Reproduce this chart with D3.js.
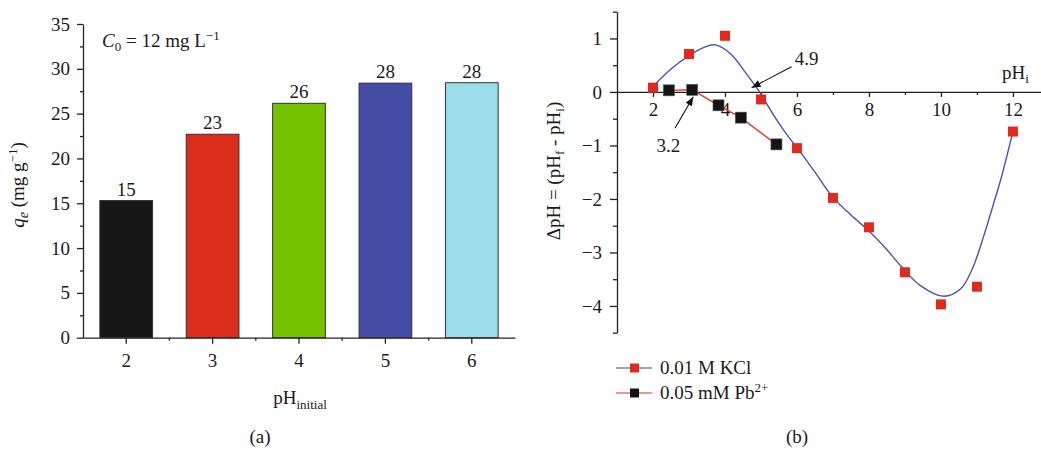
<!DOCTYPE html>
<html>
<head>
<meta charset="utf-8">
<script src="https://cdn.jsdelivr.net/npm/d3@7"></script>
<style>
  body { margin: 0; background: #fff; }
  svg text { font-family: "Liberation Serif", "DejaVu Serif", serif; fill: #1a1a1a; }
</style>
</head>
<body>
<svg id="fig" width="1041" height="452"></svg>
<script>
// (a) bar chart
var phInitial = ["2", "3", "4", "5", "6"];
var qe = [15.3, 22.7, 26.15, 28.4, 28.45];
var qeLabels = ["15", "23", "26", "28", "28"];
var barColors = ["#171717", "#dc2d1b", "#75c300", "#454ca6", "#9adde9"];
var qeTicks = [0, 5, 10, 15, 20, 25, 30, 35];

// (b) pH drift
var kclX = [2, 3, 4, 5, 6, 7, 8, 9, 10, 11, 12];
var kclY = [0.08, 0.71, 1.05, -0.14, -1.05, -1.98, -2.53, -3.37, -3.97, -3.64, -0.74];
// fitted curve for KCl
var fitX = [2.08, 2.5, 3.0, 3.4, 3.74, 4.16, 4.53, 4.94, 5.32, 5.7, 6.1, 6.5, 7, 7.5, 8, 8.5, 8.88, 9.43, 10.08, 10.55, 10.87, 11.19, 11.47, 11.66, 11.85, 12];
var fitY = [0.16, 0.43, 0.68, 0.83, 0.88, 0.71, 0.40, 0.02, -0.40, -0.78, -1.13, -1.5, -1.97, -2.3, -2.6, -2.95, -3.25, -3.62, -3.82, -3.68, -3.31, -2.69, -2.07, -1.64, -1.15, -0.74];
var pbX = [2.44, 3.09, 3.82, 4.44, 5.43];
var pbY = [0.03, 0.04, -0.25, -0.48, -0.98];
var phTicks = [2, 4, 6, 8, 10, 12];
var dphTicks = [1, 0, -1, -2, -3, -4];

var svg = d3.select("#fig");
var fs = 19;

// ---------- panel (a) ----------
var xa = d3.scaleBand().domain(phInitial).range([83, 515])
           .paddingInner(0.39).paddingOuter(0.195);
var ya = d3.scaleLinear().domain([0, 35]).range([337.7, 24]);

var pa = svg.append("g");

pa.selectAll(".bar")
  .data(qe)
  .enter().append("rect")
  .attr("x", (d, i) => xa(phInitial[i]))
  .attr("y", d => ya(d))
  .attr("width", xa.bandwidth())
  .attr("height", d => ya(0) - ya(d))
  .style("fill", (d, i) => barColors[i])
  .style("stroke", "#333")
  .style("stroke-width", 1);

pa.selectAll(".blab")
  .data(qe)
  .enter().append("text")
  .attr("x", (d, i) => xa(phInitial[i]) + xa.bandwidth() / 2)
  .attr("y", d => ya(d) - 5)
  .attr("text-anchor", "middle")
  .style("font-size", fs + "px")
  .text((d, i) => qeLabels[i]);

// y axis
var yAxisA = d3.axisLeft(ya).tickValues(qeTicks).tickSize(6).tickSizeOuter(0).tickPadding(7);
var gya = pa.append("g").attr("transform", "translate(83,0)").call(yAxisA);
gya.selectAll("text").style("font-size", fs + "px");
gya.selectAll("line, path").style("stroke", "#222").style("stroke-width", 1.3);
pa.append("g").attr("transform", "translate(83,0)")
  .call(d3.axisLeft(ya).tickValues(qeTicks.slice(0, -1).map(d => d + 2.5)).tickSize(3).tickFormat(""))
  .call(g => g.select(".domain").remove())
  .selectAll("line").style("stroke", "#222").style("stroke-width", 1.3);

// x axis
var gxa = pa.append("g").attr("transform", "translate(0," + ya(0) + ")")
  .call(d3.axisBottom(xa).tickSize(6).tickSizeOuter(0).tickPadding(10));
gxa.selectAll("text").style("font-size", fs + "px");
gxa.selectAll("line, path").style("stroke", "#222").style("stroke-width", 1.3);
pa.append("g").selectAll("line")
  .data(d3.range(1, phInitial.length))
  .enter().append("line")
  .attr("x1", i => xa.range()[0] + i * xa.step())
  .attr("x2", i => xa.range()[0] + i * xa.step())
  .attr("y1", ya(0)).attr("y2", ya(0) + 3)
  .style("stroke", "#222").style("stroke-width", 1.3);

// labels
var c0 = pa.append("text").attr("x", 102).attr("y", 47).style("font-size", fs + "px");
c0.append("tspan").style("font-style", "italic").text("C");
c0.append("tspan").attr("dy", 4).style("font-size", "13px").text("0");
c0.append("tspan").attr("dy", -4).text(" = 12 mg L");
c0.append("tspan").attr("dy", -7).style("font-size", "13px").text("−1");

var yla = pa.append("text").attr("transform", "translate(24,185) rotate(-90)")
  .attr("text-anchor", "middle").style("font-size", fs + "px");
yla.append("tspan").style("font-style", "italic").text("q");
yla.append("tspan").attr("dy", 4).style("font-size", "14px").style("font-style", "italic").text("e");
yla.append("tspan").attr("dy", -4).text(" (mg g");
yla.append("tspan").attr("dy", -7).style("font-size", "13px").text("−1");
yla.append("tspan").attr("dy", 7).text(")");

var xla = pa.append("text").attr("x", 300).attr("y", 404)
  .attr("text-anchor", "middle").style("font-size", fs + "px");
xla.append("tspan").text("pH");
xla.append("tspan").attr("dy", 5).style("font-size", "13px").text("initial");

pa.append("text").attr("x", 260).attr("y", 443).attr("text-anchor", "middle")
  .style("font-size", fs + "px").text("(a)");

// ---------- panel (b) ----------
var xb = d3.scaleLinear().domain([1, 12.78]).range([617, 1041]);
var yb = d3.scaleLinear().domain([-4.5, 1.5]).range([332.7, 11.7]);
var pb = svg.append("g");

// y axis
var gyb = pb.append("g").attr("transform", "translate(617,0)")
  .call(d3.axisLeft(yb).tickValues(dphTicks).tickSize(7).tickSizeOuter(0).tickPadding(8).tickFormat(d3.format("d")));
gyb.selectAll("text").style("font-size", fs + "px");
gyb.selectAll("line, path").style("stroke", "#222").style("stroke-width", 1.3);
pb.append("g").attr("transform", "translate(617,0)")
  .call(d3.axisLeft(yb).tickValues(d3.range(-4.5, 2, 1)).tickSize(4).tickFormat(""))
  .call(g => g.select(".domain").remove())
  .selectAll("line").style("stroke", "#222").style("stroke-width", 1.3);

// x axis at zero
var gxb = pb.append("g").attr("transform", "translate(0," + yb(0) + ")")
  .call(d3.axisBottom(xb).tickValues(phTicks).tickSize(5).tickSizeOuter(0).tickPadding(6).tickFormat(d3.format("d")));
gxb.selectAll("text").style("font-size", fs + "px");
gxb.selectAll("line, path").style("stroke", "#222").style("stroke-width", 1.3);
pb.append("g").attr("transform", "translate(0," + yb(0) + ")")
  .call(d3.axisBottom(xb).tickValues(d3.range(3, 13, 2)).tickSize(3).tickFormat(""))
  .call(g => g.select(".domain").remove())
  .selectAll("line").style("stroke", "#222").style("stroke-width", 1.3);

var phi = pb.append("text").attr("x", 1002).attr("y", 79).style("font-size", fs + "px");
phi.append("tspan").text("pH");
phi.append("tspan").attr("dy", 4).style("font-size", "13px").text("i");

var ylb = pb.append("text").attr("transform", "translate(560,171) rotate(-90)")
  .attr("text-anchor", "middle").style("font-size", fs + "px");
ylb.append("tspan").text("ΔpH = (pH");
ylb.append("tspan").attr("dy", 4).style("font-size", "13px").text("f");
ylb.append("tspan").attr("dy", -4).text(" - pH");
ylb.append("tspan").attr("dy", 4).style("font-size", "13px").text("i");
ylb.append("tspan").attr("dy", -4).text(")");

// lines
var line = d3.line().x(d => xb(d[0])).y(d => yb(d[1]));
pb.append("path")
  .attr("d", line.curve(d3.curveCatmullRom.alpha(0.5))(d3.zip(fitX, fitY)))
  .style("fill", "none").style("stroke", "#4a52b5").style("stroke-width", 1.4);
pb.append("path")
  .attr("d", d3.line().x(d => xb(d[0])).y(d => yb(d[1]))(d3.zip(pbX, pbY)))
  .style("fill", "none").style("stroke", "#e23a2a").style("stroke-width", 1.4);

// markers
pb.selectAll(".kcl").data(d3.zip(kclX, kclY)).enter().append("rect")
  .attr("x", d => xb(d[0]) - 5).attr("y", d => yb(d[1]) - 5)
  .attr("width", 10).attr("height", 10).style("fill", "#e02a1e");
pb.selectAll(".pb").data(d3.zip(pbX, pbY)).enter().append("rect")
  .attr("x", d => xb(d[0]) - 5.5).attr("y", d => yb(d[1]) - 5.5)
  .attr("width", 11).attr("height", 11).style("fill", "#141414")
  .style("stroke", "#555").style("stroke-width", 0.6);

// annotations
svg.append("defs").append("marker").attr("id", "ah")
  .attr("viewBox", "0 0 10 10").attr("refX", 10).attr("refY", 5)
  .attr("markerWidth", 9).attr("markerHeight", 9).attr("orient", "auto")
  .attr("markerUnits", "userSpaceOnUse")
  .append("path").attr("d", "M0,1 L10,5 L0,9 Z").style("fill", "#111");

var notes = [
  {label: "4.9", tip: [4.74, 0.08], tail: [5.85, 0.47], at: [5.94, 0.5]},
  {label: "3.2", tip: [3.12, -0.09], tail: [2.61, -0.68], at: [2.10, -1.12]}
];
notes.forEach(function (n) {
  pb.append("line")
    .attr("x1", xb(n.tail[0])).attr("y1", yb(n.tail[1]))
    .attr("x2", xb(n.tip[0])).attr("y2", yb(n.tip[1]))
    .style("stroke", "#111").style("stroke-width", 1.1)
    .attr("marker-end", "url(#ah)");
  pb.append("text").attr("x", xb(n.at[0])).attr("y", yb(n.at[1]))
    .style("font-size", fs + "px").text(n.label);
});

// legend
var legend = [
  {name: "0.01 M KCl", line: "#7d82c8", fill: "#e02a1e"},
  {name: "0.05 mM Pb", sup: "2+", line: "#e97566", fill: "#141414"}
];
legend.forEach(function (l, i) {
  var y = 368 + i * 25;
  pb.append("line").attr("x1", 616).attr("x2", 652).attr("y1", y).attr("y2", y)
    .style("stroke", l.line).style("stroke-width", 1.5);
  pb.append("rect").attr("x", 630).attr("y", y - 4.5).attr("width", 9).attr("height", 9)
    .style("fill", l.fill);
  var t = pb.append("text").attr("x", 660).attr("y", y + 6).style("font-size", fs + "px");
  t.append("tspan").text(l.name);
  if (l.sup) t.append("tspan").attr("dy", -7).style("font-size", "13px").text(l.sup);
});

pb.append("text").attr("x", 797).attr("y", 443).attr("text-anchor", "middle")
  .style("font-size", fs + "px").text("(b)");
</script>
</body>
</html>
